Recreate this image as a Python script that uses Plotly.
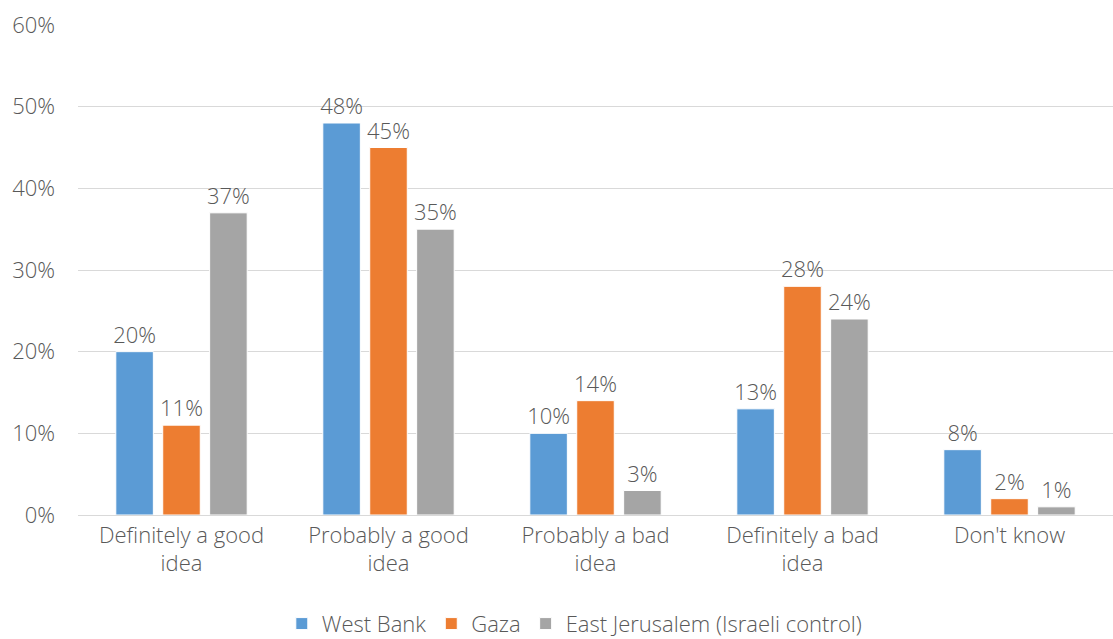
import plotly.graph_objects as go

categories = ["Definitely a good<br>idea", "Probably a good<br>idea", "Probably a bad<br>idea",
              "Definitely a bad<br>idea", "Don't know"]
west_bank = [0.20, 0.48, 0.10, 0.13, 0.08]
gaza = [0.11, 0.45, 0.14, 0.28, 0.02]
east_jerusalem = [0.37, 0.35, 0.03, 0.24, 0.01]
series = [("West Bank", west_bank, "#5B9BD5"),
          ("Gaza", gaza, "#ED7D31"),
          ("East Jerusalem (Israeli control)", east_jerusalem, "#A5A5A5")]

FONT = "'Open Sans', sans-serif"
TXT = "#595959"
FS = 22

fig = go.Figure()
for name, vals, col in series:
    fig.add_trace(go.Bar(
        name=name, x=categories, y=vals,
        marker=dict(color=col, line=dict(color="white", width=1)),
        text=[f"{v*100:.0f}%" for v in vals], textposition="outside",
        constraintext="none",
        textfont=dict(size=FS, color=TXT, family=FONT, weight=300), cliponaxis=False,
    ))

fig.update_layout(
    width=1113, height=639,
    margin=dict(l=78, r=0, t=25, b=124, autoexpand=False),
    paper_bgcolor="white", plot_bgcolor="white",
    barmode="group", bargap=0.32, bargroupgap=0.2,
    font=dict(family=FONT, size=FS, color=TXT, weight=300),
    yaxis=dict(range=[0, 0.6], dtick=0.1, tickformat=".0%", showgrid=True,
               gridcolor="#D9D9D9", gridwidth=1.3, zeroline=False, showline=False,
               tickfont=dict(size=FS, color=TXT, weight=300), ticks="", ticklabelstandoff=22,
               automargin=False),
    xaxis=dict(showline=True, linecolor="#D9D9D9", linewidth=1.3, ticks="",
               tickfont=dict(size=FS, color=TXT, weight=300), automargin=False),
    legend=dict(orientation="h", x=0.48, xanchor="center", y=-0.222, yanchor="middle",
                font=dict(size=FS, color=TXT, weight=300), itemwidth=30, traceorder="normal"),
    showlegend=True,
)
fig.write_html("out.html", config={"displayModeBar": False},
               post_script="document.body.style.margin='0';")
